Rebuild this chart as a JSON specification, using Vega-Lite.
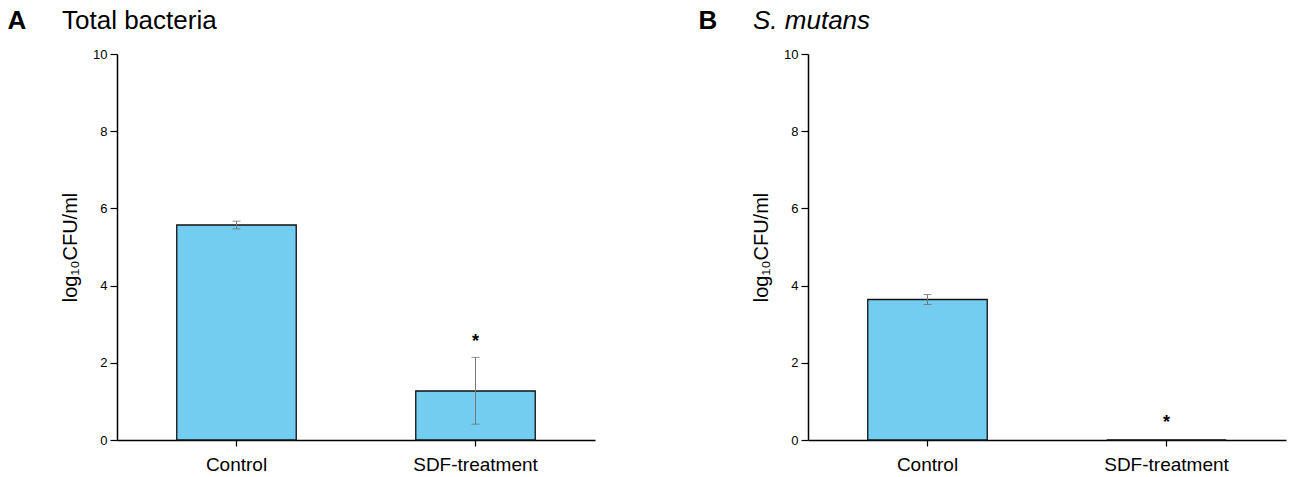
{
  "$schema": "https://vega.github.io/schema/vega-lite/v6.json",
  "background": "white",
  "padding": {"left": 7, "top": 8, "right": 5, "bottom": 5},
  "datasets": {
    "a": [
      {"group": "Control", "mean": 5.57, "lo": 5.47, "hi": 5.67, "star": null},
      {"group": "SDF-treatment", "mean": 1.27, "lo": 0.41, "hi": 2.14, "star": 2.55}
    ],
    "b": [
      {"group": "Control", "mean": 3.64, "lo": 3.51, "hi": 3.77, "star": null},
      {"group": "SDF-treatment", "mean": 0, "lo": 0, "hi": 0, "star": 0.45}
    ]
  },
  "config": {
    "view": {"stroke": null},
    "font": "Liberation Sans",
    "axis": {
      "domainColor": "#000",
      "domainWidth": 1.5,
      "tickColor": "#000",
      "tickWidth": 1.2,
      "labelColor": "#000",
      "titleColor": "#000",
      "grid": false,
      "labelFont": "Liberation Sans",
      "titleFont": "Liberation Sans",
      "titleFontWeight": "normal"
    }
  },
  "spacing": 103,
  "hconcat": [
    {
      "title": {"text": "A", "anchor": "start", "fontSize": 26, "fontWeight": "bold", "color": "#000", "offset": -26, "dx": -53},
      "vconcat": [
        {
          "width": 478,
          "height": 386,
          "title": {
            "text": "Total bacteria",
            "anchor": "start",
            "frame": "group",
            "dx": -55,
            "offset": 14,
            "fontSize": 26,
            "fontWeight": "normal",
            "color": "#000"
          },
          "data": {"name": "a"},
          "encoding": {
            "x": {
              "field": "group", "type": "nominal", "sort": null,
              "scale": {"paddingInner": 0.5, "paddingOuter": 0.25},
              "axis": {"title": null, "labelAngle": 0, "labelFontSize": 19, "tickSize": 6, "labelPadding": 9}
            }
          },
          "layer": [
            {
              "mark": {"type": "bar", "color": "#72cdf1", "stroke": "#111", "strokeWidth": 1.3},
              "encoding": {
                "y": {
                  "field": "mean", "type": "quantitative",
                  "title": "log\u2081\u2080CFU/ml",
                  "scale": {"domain": [0, 10], "nice": false},
                  "axis": {
                    "title": "log\u2081\u2080CFU/ml",
                    "titleFontSize": 20,
                    "titlePadding": 12,
                    "values": [0, 1, 2, 3, 4, 5, 6, 7, 8, 9, 10],
                    "labelExpr": "datum.value % 2 === 0 ? datum.label : ''",
                    "labelFontSize": 13,
                    "labelPadding": 3,
                    "tickSize": {"condition": {"test": "datum.value % 2 === 0", "value": 7}, "value": 4}
                  }
                }
              }
            },
            {
              "mark": {"type": "errorbar", "ticks": {"size": 8, "color": "#666"}, "rule": {"color": "#777"}, "thickness": 1},
              "encoding": {
                "y": {"field": "lo", "type": "quantitative", "title": "log\u2081\u2080CFU/ml"},
                "y2": {"field": "hi"}
              }
            },
            {
              "mark": {"type": "text", "text": "*", "fontSize": 18, "fontWeight": "bold", "baseline": "middle", "color": "#000"},
              "encoding": {"y": {"field": "star", "type": "quantitative", "title": "log\u2081\u2080CFU/ml"}}
            }
          ]
        }
      ]
    },
    {
      "title": {"text": "B", "anchor": "start", "fontSize": 26, "fontWeight": "bold", "color": "#000", "offset": -26, "dx": -53},
      "vconcat": [
        {
          "width": 478,
          "height": 386,
          "title": {
            "text": "S. mutans",
            "anchor": "start",
            "frame": "group",
            "dx": -55,
            "offset": 14,
            "fontSize": 26,
            "fontWeight": "normal",
            "fontStyle": "italic",
            "color": "#000"
          },
          "data": {"name": "b"},
          "encoding": {
            "x": {
              "field": "group", "type": "nominal", "sort": null,
              "scale": {"paddingInner": 0.5, "paddingOuter": 0.25},
              "axis": {"title": null, "labelAngle": 0, "labelFontSize": 19, "tickSize": 6, "labelPadding": 9}
            }
          },
          "layer": [
            {
              "mark": {"type": "bar", "color": "#72cdf1", "stroke": "#111", "strokeWidth": 1.3},
              "encoding": {
                "y": {
                  "field": "mean", "type": "quantitative",
                  "title": "log\u2081\u2080CFU/ml",
                  "scale": {"domain": [0, 10], "nice": false},
                  "axis": {
                    "title": "log\u2081\u2080CFU/ml",
                    "titleFontSize": 20,
                    "titlePadding": 12,
                    "values": [0, 1, 2, 3, 4, 5, 6, 7, 8, 9, 10],
                    "labelExpr": "datum.value % 2 === 0 ? datum.label : ''",
                    "labelFontSize": 13,
                    "labelPadding": 3,
                    "tickSize": {"condition": {"test": "datum.value % 2 === 0", "value": 7}, "value": 4}
                  }
                }
              }
            },
            {
              "transform": [{"filter": "datum.hi > datum.lo"}],
              "mark": {"type": "errorbar", "ticks": {"size": 8, "color": "#666"}, "rule": {"color": "#777"}, "thickness": 1},
              "encoding": {
                "y": {"field": "lo", "type": "quantitative", "title": "log\u2081\u2080CFU/ml"},
                "y2": {"field": "hi"}
              }
            },
            {
              "mark": {"type": "text", "text": "*", "fontSize": 18, "fontWeight": "bold", "baseline": "middle", "color": "#000"},
              "encoding": {"y": {"field": "star", "type": "quantitative", "title": "log\u2081\u2080CFU/ml"}}
            }
          ]
        }
      ]
    }
  ]
}
